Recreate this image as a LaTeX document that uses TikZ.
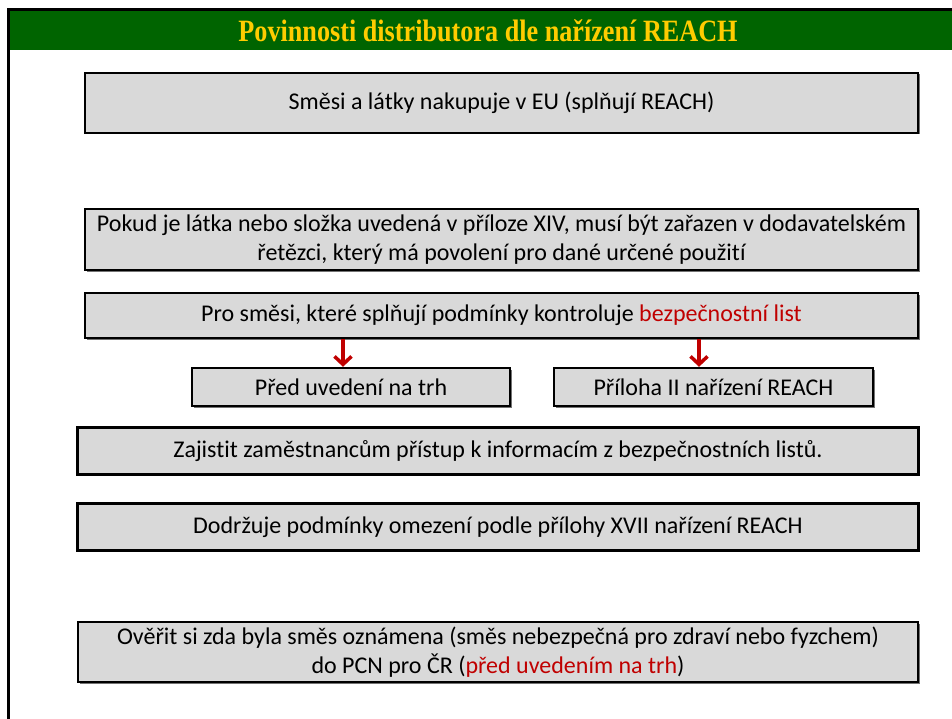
\documentclass[tikz,border=0pt]{standalone}
\usepackage{fontspec}
\setmainfont[Ligatures=NoCommon]{Carlito}
\newfontfamily\titlefont{Liberation Serif}
\usetikzlibrary{arrows.meta,shadows}
\definecolor{hdrgreen}{RGB}{0,100,0}
\definecolor{hdrgold}{RGB}{255,204,0}
\definecolor{boxgray}{RGB}{217,217,217}
\definecolor{darkred}{RGB}{192,0,0}
\tikzset{
  x=1pt, y=-1pt,
  infobox/.style={draw=black, line width=2.4pt, fill=boxgray, inner sep=0pt,
    align=center, font=\fontsize{24}{29}\selectfont,
    drop shadow={shadow xshift=1.5pt, shadow yshift=-1.5pt, fill=black!55, opacity=1}},
  redarrow/.style={draw=darkred, line width=3.5pt, -{Straight Barb[length=8pt,width=17pt,line width=3.5pt]}},
}
\begin{document}
\begin{tikzpicture}
\useasboundingbox (0,0) rectangle (952,719);
% frame and header
\fill[black] (7,8) rectangle (952,11);
\fill[black] (7,8) rectangle (10,719);
\fill[hdrgreen] (10,11) rectangle (952,50);
\node[font=\titlefont\bfseries\fontsize{31}{34}\selectfont, text=hdrgold, inner sep=0pt] (title) at (488,31) {\scalebox{0.845}[1]{Povinnosti distributora dle nařízení REACH}};
% boxes
\node[infobox, minimum width=833, minimum height=60] (b1) at (501.5,103) {Směsi a látky nakupuje v EU (splňují REACH)};
\node[infobox, minimum width=833, minimum height=61] (b2) at (501.5,239.5) {Pokud je látka nebo složka uvedená v příloze XIV, musí být zařazen v dodavatelském\\řetězci, který má povolení pro dané určené použití};
\node[infobox, minimum width=833, minimum height=45] (b3) at (501.5,315.5) {Pro směsi, které splňují podmínky kontroluje \textcolor{darkred}{bezpečnostní list}};
\node[infobox, minimum width=318, minimum height=38] (b4) at (351,387) {Před uvedení na trh};
\node[infobox, minimum width=319, minimum height=38] (b5) at (713.5,387) {Příloha II nařízení REACH};
\node[infobox, minimum width=841, minimum height=47] (b6) at (498,451) {Zajistit zaměstnancům přístup k informacím z bezpečnostních listů.};
\node[infobox, minimum width=841, minimum height=47] (b7) at (498,527) {Dodržuje podmínky omezení podle přílohy XVII nařízení REACH};
\node[infobox, minimum width=840, minimum height=60] (b8) at (498,652) {Ověřit si zda byla směs oznámena (směs nebezpečná pro zdraví nebo fyzchem)\\do PCN pro ČR (\textcolor{darkred}{před uvedením na trh})};
% arrows
\coordinate (c1) at (343,0);
\coordinate (c2) at (699,0);
\draw[redarrow] (b3.south -| c1) -- (b4.north -| c1);
\draw[redarrow] (b3.south -| c2) -- (b5.north -| c2);
\end{tikzpicture}
\end{document}
